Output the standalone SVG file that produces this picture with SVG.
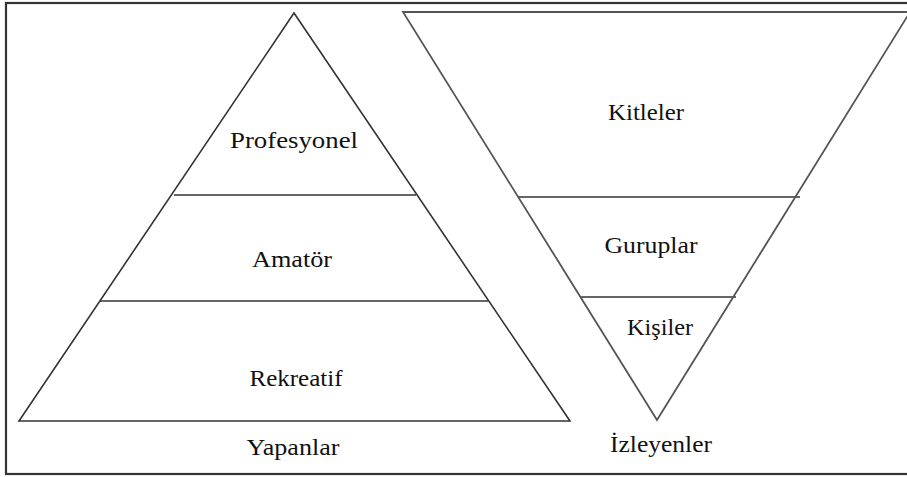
<svg xmlns="http://www.w3.org/2000/svg" width="907" height="477" viewBox="0 0 907 477">
<style>
.edge{fill:none;stroke:#333;stroke-width:1.6}
.frame{fill:none;stroke:#333;stroke-width:2.2}
.lbl{font-family:"Liberation Serif","Times New Roman",serif;font-size:24px;fill:#111;text-anchor:middle}
</style>
<rect width="907" height="477" fill="#fff"/>
<rect class="frame" x="6" y="3" width="910" height="471"/>
<g id="connectors">
<line class="edge" x1="174" y1="195" x2="416" y2="195"/>
<line class="edge" x1="100" y1="301" x2="488" y2="301"/>
<line class="edge" x1="518" y1="197" x2="800" y2="197"/>
<line class="edge" x1="580" y1="297" x2="736" y2="297"/>
</g>
<g id="pyramid-yapanlar">
<polygon class="edge" points="294,13 19,421 570,421"/>
</g>
<g id="pyramid-izleyenler">
<polygon class="edge" points="403,12 910,12 657,420" style="stroke:#555;stroke-width:1.8"/>
</g>
<g id="node-profesyonel"><text class="lbl" x="294" y="148" textLength="128" lengthAdjust="spacingAndGlyphs">Profesyonel</text></g>
<g id="node-amator"><text class="lbl" x="292" y="267" textLength="80" lengthAdjust="spacingAndGlyphs">Amatör</text></g>
<g id="node-rekreatif"><text class="lbl" x="296" y="386" textLength="93" lengthAdjust="spacingAndGlyphs">Rekreatif</text></g>
<g id="node-yapanlar"><text class="lbl" x="293" y="455" textLength="93" lengthAdjust="spacingAndGlyphs">Yapanlar</text></g>
<g id="node-kitleler"><text class="lbl" x="646" y="120" textLength="76" lengthAdjust="spacingAndGlyphs">Kitleler</text></g>
<g id="node-guruplar"><text class="lbl" x="651" y="253" textLength="93" lengthAdjust="spacingAndGlyphs">Guruplar</text></g>
<g id="node-kisiler"><text class="lbl" x="660" y="335" textLength="66" lengthAdjust="spacingAndGlyphs">Kişiler</text></g>
<g id="node-izleyenler"><text class="lbl" x="661" y="452" textLength="102" lengthAdjust="spacingAndGlyphs">İzleyenler</text></g>
</svg>
